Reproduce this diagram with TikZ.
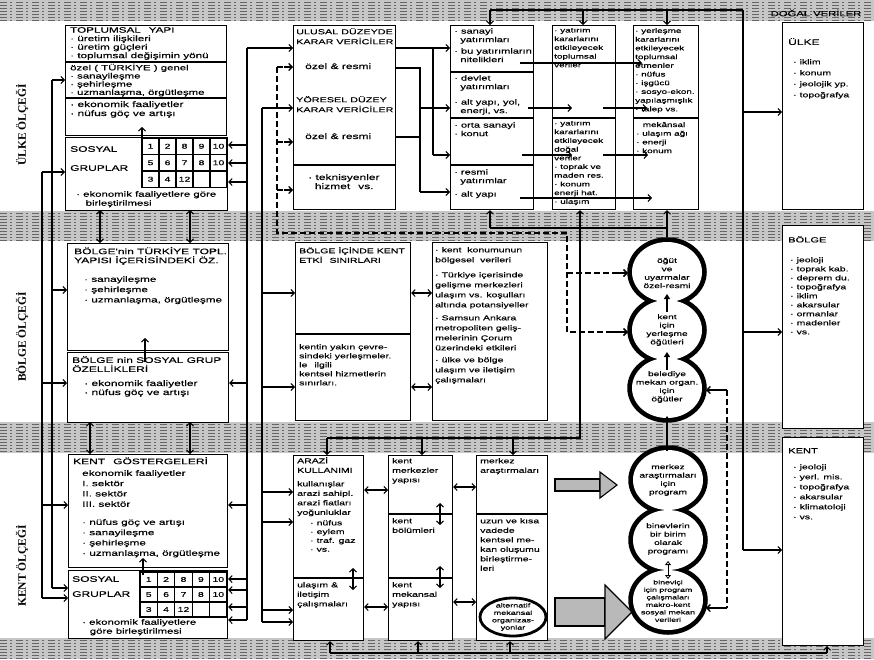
\documentclass[tikz,border=0pt]{standalone}
\usepackage{fontspec}
\newfontfamily\hand{Liberation Sans}[FakeStretch=1.5,FakeBold=0.35]
\newfontfamily\labfont{Liberation Serif}
\usetikzlibrary{arrows.meta}
\newcommand{\fta}{\hand\fontsize{8}{9}\selectfont}
\newcommand{\ftaa}{\hand\fontsize{7.8}{8.5}\selectfont}
\newcommand{\ftac}{\hand\fontsize{7.6}{8.2}\selectfont}
\newcommand{\ftab}{\hand\fontsize{7.8}{10.3}\selectfont}
\newcommand{\ftb}{\hand\fontsize{7.4}{8.6}\selectfont}
\newcommand{\ftbb}{\hand\fontsize{7}{10}\selectfont}
\newcommand{\ftc}{\hand\fontsize{6.6}{8.7}\selectfont}
\newcommand{\ftd}{\hand\fontsize{6.8}{8.4}\selectfont}
\begin{document}
\begin{tikzpicture}[x=1pt,y=-1pt,
 box/.style={draw, line width=1.1pt, fill=white, inner sep=0pt, anchor=north west},
 tx/.style={anchor=north west, align=left, inner sep=0pt, font=\fta},
 ln/.style={line width=1.05pt},
 mytip/.style={-{Straight Barb[length=3.4pt,width=7pt]}},
 arr/.style={ln, mytip},
 darr/.style={ln, {Straight Barb[length=3.4pt,width=7pt]}-{Straight Barb[length=3.4pt,width=7pt]}},
 dsh/.style={line width=2.4pt, dash pattern=on 6pt off 3pt},
 ring/.style={line width=9.5pt},
 ctext/.style={align=center, inner sep=0pt, font=\ftd},
 blk/.style={line width=1.1pt, fill=gray!55},
]
\useasboundingbox (0,0) rectangle (874,659);
\fill[white] (0,0) rectangle (874,659);
% bands
\foreach \a/\b in {0/21,211/241,422/453,638/659} \fill[gray!45] (0,\a) rectangle (874,\b);
\foreach \y in {2,5,...,20} \draw[black!60, line width=0.6pt, dash pattern=on 7pt off 3pt on 2pt off 4pt] (0,\y) -- (874,\y);
\foreach \y in {213,216,...,240} \draw[black!60, line width=0.6pt, dash pattern=on 7pt off 3pt on 2pt off 4pt] (0,\y) -- (874,\y);
\foreach \y in {424,427,...,451} \draw[black!60, line width=0.6pt, dash pattern=on 7pt off 3pt on 2pt off 4pt] (0,\y) -- (874,\y);
\foreach \y in {640,643,...,658} \draw[black!60, line width=0.6pt, dash pattern=on 7pt off 3pt on 2pt off 4pt] (0,\y) -- (874,\y);
\node[font=\hand\fontsize{7.5}{9}\selectfont, inner sep=1pt] (dv) at (816,13) {DOĞAL VERİLER};

% scale labels
\node[rotate=90, font=\labfont\bfseries\fontsize{11.5}{11.5}\selectfont] (lu) at (22,125) {ÜLKE ÖLÇEĞİ};
\node[rotate=90, font=\labfont\bfseries\fontsize{11.5}{11.5}\selectfont] (lb) at (22,337) {BÖLGE ÖLÇEĞİ};
\node[rotate=90, font=\labfont\bfseries\fontsize{11.5}{11.5}\selectfont] (lk) at (22,566) {KENT ÖLÇEĞİ};

% ---------- column A ----------
\node[box, minimum width=161pt, minimum height=110pt] (topl) at (65,25) {};
\draw[ln] (topl.west |- 0,62) -- (topl.east |- 0,62);
\draw[ln] (topl.west |- 0,98) -- (topl.east |- 0,98);
\node[tx, font=\ftaa] (ta1) at (70,27) {TOPLUMSAL\quad YAPI\\ · üretim ilişkileri\\ · üretim güçleri\\ · toplumsal değişimin yönü};
\node[tx, font=\ftac] (ta2) at (70,63.5) {özel ( TÜRKİYE ) genel\\ · sanayileşme\\ · şehirleşme\\ · uzmanlaşma, örgütleşme};
\node[tx] (ta3) at (70,101) {· ekonomik faaliyetler\\ · nüfus göç ve artışı};
\node[box, minimum width=162pt, minimum height=73pt] (s1) at (65,137) {};
\node[tx] (ta4) at (70,146) {SOSYAL};
\node[tx] (ta5) at (70,165) {GRUPLAR};
\foreach \c in {0,...,4} \foreach \r in {0,1,2} \draw[ln] ({142+17*\c},{138+16.5*\r}) rectangle +(17,16.5);
\foreach \c/\r/\v in {0/0/1,1/0/2,2/0/8,3/0/9,4/0/10,0/1/5,1/1/6,2/1/7,3/1/8,4/1/10,0/2/3,1/2/4,2/2/12}
  \node[font=\hand\fontsize{7}{8}\selectfont, inner sep=0pt] (ga\c\r) at ({150.5+17*\c},{146.25+16.5*\r}) {\v};
\node[tx, font=\hand\fontsize{7.6}{9}\selectfont] (ta6) at (76,191) {· ekonomik faaliyetlere göre\\ \ \ \ birleştirilmesi};

\node[box, minimum width=161pt, minimum height=107pt] (bt) at (67,243) {};
\node[tx] (tb1) at (74,247) {BÖLGE'nin TÜRKİYE TOPL.\\ YAPISI İÇERİSİNDEKİ ÖZ.};
\node[tx, font=\ftab] (tb2) at (84,276) {· sanayileşme\\ · şehirleşme\\ · uzmanlaşma, örgütleşme};
\node[box, minimum width=161pt, minimum height=70pt] (bs) at (67,352) {};
\node[tx] (tb3) at (72,356) {BÖLGE nin SOSYAL GRUP\\ ÖZELLİKLERİ};
\node[tx] (tb4) at (84,380) {· ekonomik faaliyetler\\ · nüfus göç ve artışı};

\node[box, minimum width=159pt, minimum height=113pt] (kg) at (68,454) {};
\node[tx] (tk1) at (73,457) {KENT\quad GÖSTERGELERİ};
\node[tx, font=\ftab] (tk2) at (82,470) {ekonomik faaliyetler\\ I. sektör\\ II. sektör\\ III. sektör};
\node[tx, font=\ftab] (tk3) at (82,519) {· nüfus göç ve artışı\\ · sanayileşme\\ · şehirleşme\\ · uzmanlaşma, örgütleşme};
\node[box, minimum width=159pt, minimum height=68pt] (ks) at (68,570) {};
\node[tx] (tk4) at (72,576) {SOSYAL};
\node[tx] (tk5) at (72,591) {GRUPLAR};
\foreach \c in {0,...,4} \foreach \r in {0,1,2} \draw[ln] ({140+17.4*\c},{572+15*\r}) rectangle +(17.4,15);
\foreach \c/\r/\v in {0/0/1,1/0/2,2/0/8,3/0/9,4/0/10,0/1/5,1/1/6,2/1/7,3/1/8,4/1/10,0/2/3,1/2/4,2/2/12}
  \node[font=\hand\fontsize{7}{8}\selectfont, inner sep=0pt] (gk\c\r) at ({148.7+17.4*\c},{579.5+15*\r}) {\v};
\node[tx, font=\hand\fontsize{7.6}{9}\selectfont] (tk6) at (82,619) {· ekonomik faaliyetlere\\ \quad göre birleştirilmesi};

% ---------- column B (Ülke) ----------
\node[box, minimum width=102pt, minimum height=184pt] (ul) at (293,25) {};
\draw[ln] (ul.west |- 0,165) -- (ul.east |- 0,165);
\node[tx, font=\hand\fontsize{7.2}{10}\selectfont] (tu1) at (296,28) {ULUSAL DÜZEYDE\\ KARAR VERİCİLER};
\node[tx] (tu2) at (305,63) {özel \& resmi};
\node[tx, font=\hand\fontsize{7.2}{10}\selectfont] (tu3) at (296,96) {YÖRESEL DÜZEY\\ KARAR VERİCİLER};
\node[tx] (tu4) at (305,133) {özel \& resmi};
\node[tx] (tu5) at (308,174) {· teknisyenler\\ \ \ hizmet\quad vs.};

% column C (Ülke)
\node[box, minimum width=83pt, minimum height=184pt] (inv) at (450,25) {};
\foreach \yy in {72,118,165} \draw[ln] (inv.west |- 0,\yy) -- (inv.east |- 0,\yy);
\node[tx, font=\ftb] (tc1) at (454,28) {· sanayi\\ \ \ yatırımları};
\node[tx, font=\ftb] (tc2) at (454,48) {· bu yatırımların\\ \ \ nitelikleri};
\node[tx, font=\ftb] (tc3) at (454,75) {· devlet\\ \ \ yatırımları};
\node[tx, font=\ftb] (tc4) at (454,99) {· alt yapı, yol,\\ \ \ enerji, vs.};
\node[tx, font=\ftb] (tc5) at (454,122) {· orta sanayi\\ · konut};
\node[tx, font=\ftb] (tc6) at (454,169) {· resmi\\ \ \ yatırımlar};
\node[tx, font=\ftb] (tc7) at (454,191) {· alt yapı};

% column D (Ülke)
\node[box, minimum width=63pt, minimum height=184pt] (dd) at (552,25) {};
\draw[ln] (dd.west |- 0,118) -- (dd.east |- 0,118);
\node[tx, font=\ftc] (td1) at (554,28) {· yatırım\\ kararlarını\\ etkileyecek\\ toplumsal\\ veriler};
\node[tx, font=\ftc] (td2) at (554,121) {· yatırım\\ kararlarını\\ etkileyecek\\ doğal\\ veriler\\ · toprak ve\\ maden res.\\ · konum\\ enerji hat.\\ · ulaşım};

% column E (Ülke)
\node[box, minimum width=65pt, minimum height=184pt] (ee) at (633,25) {};
\draw[ln] (ee.west |- 0,118) -- (ee.east |- 0,118);
\node[tx, font=\ftc] (te1) at (635,28) {· yerleşme\\ kararlarını\\ etkileyecek\\ toplumsal\\ etmenler\\ · nüfus\\ · işgücü\\ · sosyo-ekon.\\ yapılaşmışlık\\ · talep vs.};
\node[tx, font=\ftc] (te2) at (636,122) {\quad mekânsal\\ · ulaşım ağı\\ · enerji\\ · konum};

% right boxes
\node[box, minimum width=81pt, minimum height=187pt] (ulk) at (782,22) {};
\node[tx] (tr1) at (788,38) {ÜLKE};
\node[tx, font=\hand\fontsize{7}{11}\selectfont] (tr2) at (793,59) {· iklim\\ · konum\\ · jeolojik yp.\\ · topoğrafya};
\node[box, minimum width=81pt, minimum height=203pt] (blg) at (782,225) {};
\node[tx, font=\ftb] (tr3) at (788,236) {BÖLGE};
\node[tx, font=\hand\fontsize{7}{9}\selectfont] (tr4) at (790,257) {· jeoloji\\ · toprak kab.\\ · deprem du.\\ · topoğrafya\\ · iklim\\ · akarsular\\ · ormanlar\\ · madenler\\ · vs.};
\node[box, minimum width=81pt, minimum height=208pt] (kntb) at (782,437) {};
\node[tx, font=\ftb] (tr5) at (788,448) {KENT};
\node[tx, font=\ftbb] (tr6) at (793,464) {· jeoloji\\ · yerl. mis.\\ · topoğrafya\\ · akarsular\\ · klimatoloji\\ · vs.};

% ---------- Bölge B, C ----------
\node[box, minimum width=115pt, minimum height=178pt] (bk) at (295,242) {};
\draw[ln] (bk.west |- 0,334) -- (bk.east |- 0,334);
\node[tx, font=\hand\fontsize{7}{9.5}\selectfont] (tbk1) at (299,247) {BÖLGE İÇİNDE KENT\\ ETKİ\quad SINIRLARI};
\node[tx, font=\hand\fontsize{7}{9}\selectfont] (tbk2) at (299,344) {kentin yakın çevre-\\ sindeki yerleşmeler.\\ le\quad ilgili\\ kentsel hizmetlerin\\ sınırları.};
\node[box, minimum width=115pt, minimum height=178pt] (bv) at (432,242) {};
\node[tx, font=\ftbb] (tbv1) at (435,247) {· kent\ \ konumunun\\ bölgesel\ \ verileri};
\node[tx, font=\ftbb] (tbv2) at (435,272) {· Türkiye içerisinde\\ gelişme merkezleri\\ ulaşım vs. koşulları\\ altında potansiyeller};
\node[tx, font=\ftbb] (tbv3) at (435,315) {· Samsun Ankara\\ metropoliten geliş-\\ melerinin Çorum\\ üzerindeki etkileri};
\node[tx, font=\ftbb] (tbv4) at (435,357) {· ülke ve bölge\\ ulaşım ve iletişim\\ çalışmaları};

% ---------- Kent B, C, D ----------
\node[box, minimum width=70pt, minimum height=185pt] (ar) at (293,455) {};
\draw[ln] (ar.west |- 0,578) -- (ar.east |- 0,578);
\node[tx, font=\hand\fontsize{7}{9.5}\selectfont] (tar1) at (297,457) {ARAZİ\\ KULLANIMI};
\node[tx, font=\hand\fontsize{7}{9.5}\selectfont] (tar2) at (297,481) {kullanışlar\\ arazi sahipl.\\ arazi fiatları\\ yoğunluklar};
\node[tx, font=\hand\fontsize{7}{8.8}\selectfont] (tar3) at (310,520) {· nüfus\\ · eylem\\ · traf. gaz\\ · vs.};
\node[tx, font=\hand\fontsize{7}{9.5}\selectfont] (tar4) at (297,582) {ulaşım \&\\ iletişim\\ çalışmaları};

\node[box, minimum width=64pt, minimum height=185pt] (km) at (388,455) {};
\draw[ln] (km.west |- 0,514) -- (km.east |- 0,514);
\draw[ln] (km.west |- 0,578) -- (km.east |- 0,578);
\node[tx, font=\hand\fontsize{7}{9.5}\selectfont] (tkm1) at (392,458) {kent\\ merkezler\\ yapısı};
\node[tx, font=\hand\fontsize{7}{9.5}\selectfont] (tkm2) at (392,518) {kent\\ bölümleri};
\node[tx, font=\hand\fontsize{7}{9.5}\selectfont] (tkm3) at (392,582) {kent\\ mekansal\\ yapısı};

\node[box, minimum width=71pt, minimum height=185pt] (mz) at (476,455) {};
\draw[ln] (mz.west |- 0,514) -- (mz.east |- 0,514);
\node[tx, font=\hand\fontsize{7}{9.5}\selectfont] (tmz1) at (480,458) {merkez\\ araştırmaları};
\node[tx, font=\hand\fontsize{7}{9.5}\selectfont] (tmz2) at (480,518) {uzun ve kısa\\ vadede\\ kentsel me-\\ kan oluşumu\\ birleştirme-\\ leri};
\draw[line width=2.8pt] (513,617) ellipse [x radius=33pt, y radius=19pt];
\node[align=center, inner sep=0pt, font=\hand\fontsize{6}{7.4}\selectfont] (alt) at (513,617) {alternatif\\ mekansal\\ organizas-\\ yonlar};

% ---------- wiring: left margin ----------
\draw[ln] (52,80) -- (52,588);
\draw[ln] (42,172) -- (42,598);
\draw[arr] (52,80) -- (topl.west |- 0,80);
\draw[arr] (52,290) -- (bt.west |- 0,290);
\draw[arr] (52,588) -- (ks.west |- 0,588);
\draw[arr] (42,172) -- (s1.west |- 0,172);
\draw[arr] (42,383) -- (bs.west |- 0,383);
\draw[arr] (42,505) -- (kg.west |- 0,505);
\draw[arr] (42,598) -- (ks.west |- 0,598);
% vertical links inside column A
\draw[darr] (100,210) -- (100,243);
\draw[darr] (190,210) -- (190,243);
\draw[darr] (90,422) -- (90,454);
\draw[darr] (190,422) -- (190,454);
\draw[arr] (142,146) -- (142,127);
\draw[arr] (145,362) -- (145,338);
\draw[arr] (143,575) -- (143,558);

% R1
\draw[ln] (247,48) -- (247,620);
\draw[arr] (247,48) -- (ul.west |- 0,48);
\foreach \yy in {145,163,182} \draw[arr] (247,\yy) -- (s1.east |- 0,\yy);
\draw[arr] (247,383) -- (bs.east |- 0,383);
\draw[arr] (247,505) -- (kg.east |- 0,505);
\foreach \yy in {579,590,607,620} \draw[arr] (247,\yy) -- (ks.east |- 0,\yy);
% R2
\draw[ln] (262,108) -- (262,622);
\draw[arr] (262,108) -- (ul.west |- 0,108);
\draw[arr] (262,293) -- (bk.west |- 0,293);
\draw[arr] (262,387) -- (bk.west |- 0,387);
\foreach \yy in {492,522,610,622} \draw[arr] (262,\yy) -- (ar.west |- 0,\yy);
% R3 dashed
\draw[dsh] (277,67) -- (277,233) -- (567,233) -- (567,332) -- (615,332);
\draw[dsh] (567,273) -- (615,273);
\draw[ln, line width=1.6pt, mytip] (612,273) -- (628,273);
\draw[ln, line width=1.6pt, mytip] (612,332) -- (628,332);
\foreach \yy in {67,142,190} {\draw[dsh] (277,\yy) -- (286,\yy); \draw[arr, line width=1.3pt] (284,\yy) -- (ul.west |- 0,\yy);}

% Ulusal -> investments
\draw[arr] (ul.east |- 0,48) -- (inv.west |- 0,48);
\draw[ln] (433,48) -- (433,155);
\draw[arr] (433,155) -- (inv.west |- 0,155);
\draw[ln] (ul.east |- 0,68) -- (420,68) -- (420,192);
\draw[arr] (420,192) -- (inv.west |- 0,192);
\draw[ln] (ul.east |- 0,137) -- (420,137);
\draw[arr] (420,108) -- (inv.west |- 0,108);

% investments -> D / E
\draw[arr] (520,63) -- (642,63);
\draw[arr] (528,108) -- (572,108);
\draw[arr] (603,108) -- (647,108);
\draw[arr] (522,155) -- (572,155);
\draw[arr] (603,155) -- (648,155);
\draw[arr] (520,198) -- (652,198);

% top band links
\draw[ln] (490,10) -- (743,10);
\draw[arr] (490,10) -- (inv.north -| 490,0);
\draw[arr] (583,10) -- (dd.north -| 583,0);
\draw[arr] (667,10) -- (ee.north -| 667,0);
\draw[line width=1.6pt] (743,10) -- (743,550);
\draw[arr] (743,550) -- (kntb.west |- 0,550);
\draw[arr] (743,112) -- (ulk.west |- 0,112);
\draw[arr] (743,332) -- (blg.west |- 0,332);

% Bölge band links
\draw[ln] (490,228) -- (667,228);
\draw[arr] (490,228) -- (inv.south -| 490,0);
\draw[arr] (580,228) -- (dd.south -| 580,0);
\draw[arr] (667,237) -- (ee.south -| 667,0);
\draw[ln] (580,228) -- (580,438) -- (327,438);
\draw[arr] (327,438) -- (ar.north -| 327,0);
\draw[arr] (422,438) -- (km.north -| 422,0);
\draw[arr] (513,438) -- (mz.north -| 513,0);

% bottom band links
\draw[ln] (330,653) -- (827,653);
\draw[arr] (330,653) -- (ar.south -| 330,0);
\draw[arr] (418,653) -- (km.south -| 418,0);
\draw[arr] (510,653) -- (mz.south -| 510,0);
\draw[arr] (827,653) -- (kntb.south -| 827,0);

% horizontal double arrows
\draw[darr] (bk.east |- 0,293) -- (bv.west |- 0,293);
\draw[darr] (bk.east |- 0,387) -- (bv.west |- 0,387);
\draw[darr] (ar.east |- 0,490) -- (km.west |- 0,490);
\draw[darr] (ar.east |- 0,607) -- (km.west |- 0,607);
\draw[darr] (km.east |- 0,487) -- (mz.west |- 0,487);
\draw[darr] (km.east |- 0,602) -- (mz.west |- 0,602);
\draw[darr] (353,568) -- (353,590);
\draw[darr] (440,503) -- (440,525);
\draw[darr] (440,566) -- (440,588);

% dashed link between circles
\draw[dsh] (727,390) -- (727,608);
\draw[arr, line width=1.3pt] (727,390) -- (706,390);
\draw[arr, line width=1.3pt] (727,608) -- (706,608);

% block arrows
\draw[blk] (555,479) rectangle (600,491);
\draw[blk] (600,472) -- (617,485) -- (600,498) -- cycle;
\draw[blk] (555,598) rectangle (605,626);
\draw[blk] (605,585) -- (632,612) -- (605,639) -- cycle;

% ---------- circles ----------
\foreach \cx/\cy in {667/272,667/330,667/388,668/480,668/540,668/600}
  \draw[ring] (\cx,\cy) ellipse [x radius=35pt, y radius=30pt];
\foreach \cx/\cy in {667/272,667/330,667/388,668/480,668/540,668/600}
  \fill[white] (\cx,\cy) ellipse [x radius=35pt, y radius=30pt];
\node[ctext] (c1) at (667,273) {öğüt\\ ve\\ uyarmalar\\ özel-resmi};
\node[ctext] (c2) at (667,330) {kent\\ için\\ yerleşme\\ öğütleri};
\node[ctext] (c3) at (667,387) {belediye\\ mekan organ.\\ için\\ öğütler};
\node[ctext] (c4) at (668,480) {merkez\\ araştırmaları\\ için\\ program};
\node[ctext] (c5) at (668,539) {binevlerin\\ bir birim\\ olarak\\ programı};
\node[align=center, inner sep=0pt, font=\hand\fontsize{5.9}{7.5}\selectfont] (c6) at (668,601) {bineviçi\\ için program\\ çalışmaları\\ makro-kent\\ sosyal mekan\\ verileri};
\draw[line width=2.4pt, -{Triangle[length=5pt,width=6pt]}] (667,312) -- (667,294);
\draw[line width=2.4pt, -{Triangle[length=5pt,width=6pt]}] (667,370) -- (667,352);
\draw[line width=2.4pt, -{Triangle[length=5pt,width=6pt]}] (667,451) -- (667,416);
\draw[line width=0.8pt, fill=white, {Triangle[open,length=4pt,width=6pt]}-{Triangle[open,length=4pt,width=6pt]}] (668,561) -- (668,579);
\end{tikzpicture}
\end{document}
